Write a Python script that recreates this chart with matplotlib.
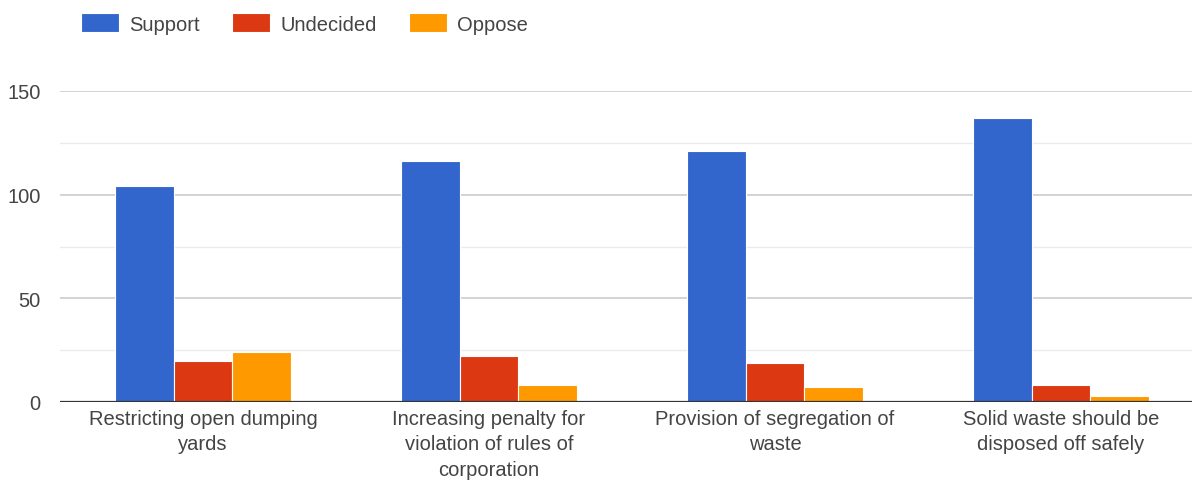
import numpy as np
import matplotlib.pyplot as plt

plt.rcParams['font.family'] = ['Liberation Sans', 'DejaVu Sans']

categories = ['Restricting open dumping\nyards',
              'Increasing penalty for\nviolation of rules of\ncorporation',
              'Provision of segregation of\nwaste',
              'Solid waste should be\ndisposed off safely']
support = [104, 116, 121, 137]
undecided = [20, 22, 19, 8]
oppose = [24, 8, 7, 3]
series_names = ['Support', 'Undecided', 'Oppose']
colors = ['#3366CC', '#DC3912', '#FF9900']

fig = plt.figure(figsize=(11.92, 4.81), dpi=100)
ax = fig.add_axes([60 / 1192, 78 / 481, 1132 / 1192, 311 / 481])

x = np.arange(len(categories))
w = 0.205
for i, (vals, name, c) in enumerate(zip([support, undecided, oppose], series_names, colors)):
    ax.bar(x + (i - 1) * w, vals, w, color=c, label=name, edgecolor='white', linewidth=0.8, zorder=3)

ax.set_ylim(0, 150)
ax.set_xlim(-0.5, 3.458)
ax.set_yticks([0, 50, 100, 150])
ax.set_yticks([25, 75, 125], minor=True)
ax.grid(axis='y', which='major', color='#cccccc', linewidth=1.2, zorder=0)
ax.grid(axis='y', which='minor', color='#ebebeb', linewidth=1.0, zorder=0)
ax.axhline(0, color='#333333', linewidth=1.6, zorder=4)

for s in ax.spines.values():
    s.set_visible(False)
ax.tick_params(axis='both', which='both', length=0, labelsize=14.5, labelcolor='#444444')
ax.tick_params(axis='y', pad=14)
ax.set_xticks(x)
ax.set_xticklabels(categories, linespacing=1.42)
ax.tick_params(axis='x', pad=5)

fig.legend(loc='upper left', bbox_to_anchor=(81 / 1192, 1 - 14 / 481), ncol=3, frameon=False,
           fontsize=14.5, handlelength=1.9, handleheight=1.1, handletextpad=0.5,
           columnspacing=1.6, borderpad=0, borderaxespad=0, labelcolor='#444444')

fig.savefig('out.png', dpi=100)
